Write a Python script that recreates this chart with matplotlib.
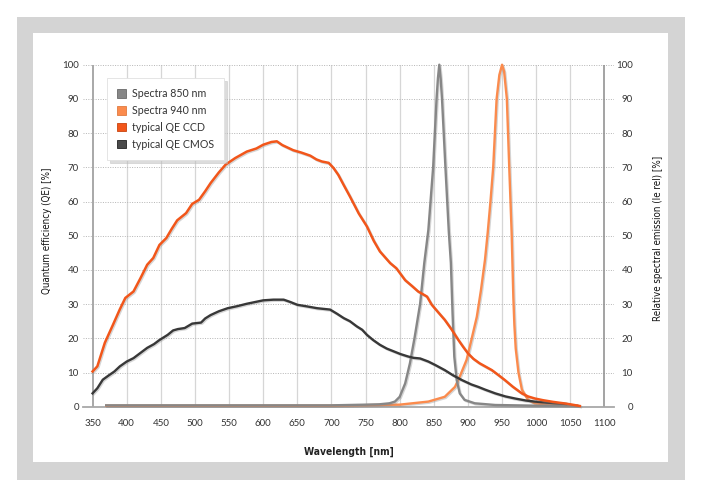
import matplotlib
matplotlib.use("Agg")
import matplotlib.pyplot as plt
import matplotlib.patheffects as pe
from matplotlib.patches import Rectangle, Patch

# --- data ---
ccd_nm = [350, 357, 368, 380, 390, 398, 410, 420, 430, 439, 448, 458, 466, 474, 487, 496, 506,
          515, 523, 535, 545, 559, 576, 590, 600, 612, 620, 628, 644, 656, 669, 678, 686, 696,
          703, 710, 718, 727, 740, 752, 762, 771, 786, 795, 808, 818, 827, 840, 847, 856, 866,
          876, 886, 893, 900, 908, 917, 926, 935, 945, 954, 966, 979, 988, 998, 1010, 1025,
          1040, 1050, 1064]
ccd_qe = [10.3, 11.8, 18.7, 24, 28.5, 31.8, 33.7, 37.5, 41.5, 43.5, 47.3, 49.3, 52, 54.5, 56.6,
          59.3, 60.5, 63, 65.4, 68.5, 70.8, 72.7, 74.6, 75.5, 76.6, 77.4, 77.6, 76.5, 75, 74.3,
          73.4, 72.3, 71.7, 71.3, 69.8, 67.8, 64.8, 61.5, 56.5, 52.7, 48.5, 45.4, 42, 40.5, 37,
          35.3, 33.7, 32.2, 29.8, 27.7, 25.4, 22.6, 19.5, 17.5, 15.6, 14, 12.7, 11.7, 10.7, 9.2,
          7.8, 5.8, 3.9, 3, 2.4, 1.9, 1.4, 1.0, 0.7, 0.2]

cmos_nm = [350, 357, 365, 374, 382, 390, 400, 410, 420, 430, 440, 448, 460, 468, 475, 485, 496,
           509, 515, 523, 535, 548, 562, 576, 588, 600, 615, 630, 640, 650, 665, 679, 698, 708,
           718, 727, 737, 745, 752, 761, 771, 781, 791, 801, 812, 820, 830, 842, 852, 866, 878,
           891, 905, 915, 925, 940, 955, 969, 985, 998, 1015, 1030, 1044]
cmos_qe = [3.9, 5.4, 7.9, 9.2, 10.3, 11.8, 13.2, 14.2, 15.7, 17.2, 18.3, 19.5, 21, 22.3, 22.7,
           23, 24.3, 24.6, 25.8, 26.8, 27.9, 28.8, 29.4, 30.1, 30.6, 31.1, 31.3, 31.3, 30.6,
           29.8, 29.3, 28.8, 28.4, 27.2, 25.9, 25, 23.5, 22.5, 21, 19.5, 18.1, 17, 16.2, 15.4,
           14.7, 14.3, 14.1, 13.2, 12.2, 10.7, 9.2, 7.8, 6.5, 5.8, 5, 3.9, 3, 2.4, 1.8, 1.5,
           1.2, 1.0, 0.8]

s850_nm = [370, 700, 750, 770, 785, 793, 800, 808, 815, 822, 830, 836, 842, 849, 854, 856, 858,
           860, 862, 867, 872, 875, 877.5, 880, 883.5, 888, 895, 910, 940, 1000, 1060]
s850_ie = [0.4, 0.4, 0.6, 0.7, 1.0, 1.5, 2.9, 6.8, 12.7, 20.4, 30.2, 42, 51.7, 70, 90, 96, 100,
           96, 90, 70, 51, 42, 27, 14.6, 7.8, 3.9, 2, 1, 0.5, 0.3, 0.3]

s940_nm = [370, 700, 800, 842, 866, 881, 888, 898, 905, 913, 919, 925, 929, 933, 937, 942, 946,
           950, 953, 957, 960.5, 964, 966.5, 968, 970, 974, 979, 988, 998, 1020, 1060]
s940_ie = [0.3, 0.3, 0.6, 1.5, 2.9, 5.8, 8.8, 13.7, 19.5, 26.3, 34, 43, 51, 60, 70, 90, 97, 100,
           98, 90, 70, 51, 32, 24, 17, 10, 5, 2, 1, 0.5, 0.3]

x_ticks = list(range(350, 1101, 50))
y_ticks = list(range(0, 101, 10))

c850 = '#878787'
c940 = '#fb8b4d'
cccd = '#f2561a'
ccmos = '#383838'

fig = plt.figure(figsize=(7.02, 4.97), dpi=100, facecolor='white')

# grey frame with white panel
fig.patches.append(Rectangle((17 / 702, 1 - 480 / 497), 668 / 702, 463 / 497,
                             transform=fig.transFigure, facecolor='#d4d4d4', edgecolor='none', zorder=-2))
fig.patches.append(Rectangle((33 / 702, 1 - 462 / 497), 635 / 702, 429 / 497,
                             transform=fig.transFigure, facecolor='white', edgecolor='none', zorder=-1))

ax = fig.add_axes([83 / 702, 1 - 406.7 / 497, 531 / 702, 342 / 497])
ax.set_facecolor('none')
ax.set_xlim(336, 1114)
ax.set_ylim(0, 100)

for s in ['top', 'left', 'right']:
    ax.spines[s].set_visible(False)
ax.spines['bottom'].set_color('#a8a8a8')
ax.spines['bottom'].set_linewidth(1.3)

# grid
ax.set_yticks(y_ticks)
ax.yaxis.grid(True, ls=(0, (1, 1.5)), color='#b5b5b5', lw=0.7)
for xv in x_ticks[1:-1]:
    ax.axvline(xv, color='#d6d6d6', lw=0.9, zorder=0.5)
ax.axvline(x_ticks[0], color='#a8a8a8', lw=1.4, zorder=1)
ax.axvline(x_ticks[-1], color='#8a8a8a', lw=1.1, zorder=1)
ax.set_axisbelow(True)

tickfont = dict(family=['Lato', 'DejaVu Sans'], size=7, color='#333333')
ax.set_xticks(x_ticks)
ax.set_xticklabels([str(v) for v in x_ticks], fontdict=tickfont)
ax.set_yticklabels([str(v) for v in y_ticks], fontdict=tickfont)
ax.tick_params(axis='both', length=0)
ax.tick_params(axis='x', pad=9)
ax.tick_params(axis='y', pad=3)

xlabfont = dict(family=['DejaVu Sans'], stretch='condensed', size=7.4, weight='bold', color='#222222')
ylabfont = dict(family=['DejaVu Sans'], stretch='condensed', size=7, weight='normal', color='#111111')
ax.set_xlabel('Wavelength [nm]', fontdict=xlabfont)
ax.xaxis.set_label_coords((349 - 83) / 531, -(447 - 406.7) / 342)
ax.set_ylabel('Quantum efficiency (QE) [%]', fontdict=ylabfont)
ax.yaxis.set_label_coords(-(83 - 52) / 531, (406.7 - 231) / 342)

ax2 = ax.twinx()
ax2.set_ylim(0, 100)
for s in ax2.spines.values():
    s.set_visible(False)
ax2.set_yticks(y_ticks)
ax2.set_yticklabels([str(v) for v in y_ticks], fontdict=tickfont, ha='right')
ax2.tick_params(axis='y', length=0, pad=13.5)
ax2.set_ylabel('Relative spectral emission (Ie rel) [%]', fontdict=ylabfont)
ax2.yaxis.set_label_coords(1 + (653 - 614) / 531, (406.7 - 238) / 342)

shadow = [pe.SimpleLineShadow(offset=(0.8, -0.8), shadow_color='#888888', alpha=0.35), pe.Normal()]

ax.plot(s940_nm, s940_ie, color=c940, lw=1.7, clip_on=False, path_effects=shadow, zorder=3)
ax.plot(s850_nm, s850_ie, color=c850, lw=1.7, clip_on=False, path_effects=shadow, zorder=3)
ax.plot(cmos_nm, cmos_qe, color=ccmos, lw=1.7, clip_on=False, path_effects=shadow, zorder=4)
ax.plot(ccd_nm, ccd_qe, color=cccd, lw=1.8, clip_on=False, path_effects=shadow, zorder=4)

handles = [Patch(facecolor=c850, edgecolor='#6a6a6a', lw=0.6),
           Patch(facecolor=c940, edgecolor='#e07a40', lw=0.6),
           Patch(facecolor=cccd, edgecolor='#c8440f', lw=0.6),
           Patch(facecolor='#4a4a4a', edgecolor='#222222', lw=0.6)]
labels = ['Spectra 850 nm', 'Spectra 940 nm', 'typical QE CCD', 'typical QE CMOS']
leg = ax.legend(handles, labels, loc='upper left', bbox_to_anchor=((107 - 83) / 531, (406.7 - 78) / 342),
                borderaxespad=0, frameon=True, fancybox=False, shadow={'color': '#bbbbbb', 'alpha': 0.5},
                handlelength=0.85, handleheight=0.85, handletextpad=0.55, labelspacing=0.55,
                borderpad=0.95, prop={'family': ['Lato', 'DejaVu Sans'], 'size': 7.7})
leg.get_frame().set_edgecolor('#e0e0e0')
leg.get_frame().set_linewidth(0.6)
for t in leg.get_texts():
    t.set_color('#333333')
leg.set_zorder(10)

fig.savefig('out.png', dpi=100, facecolor='white')
